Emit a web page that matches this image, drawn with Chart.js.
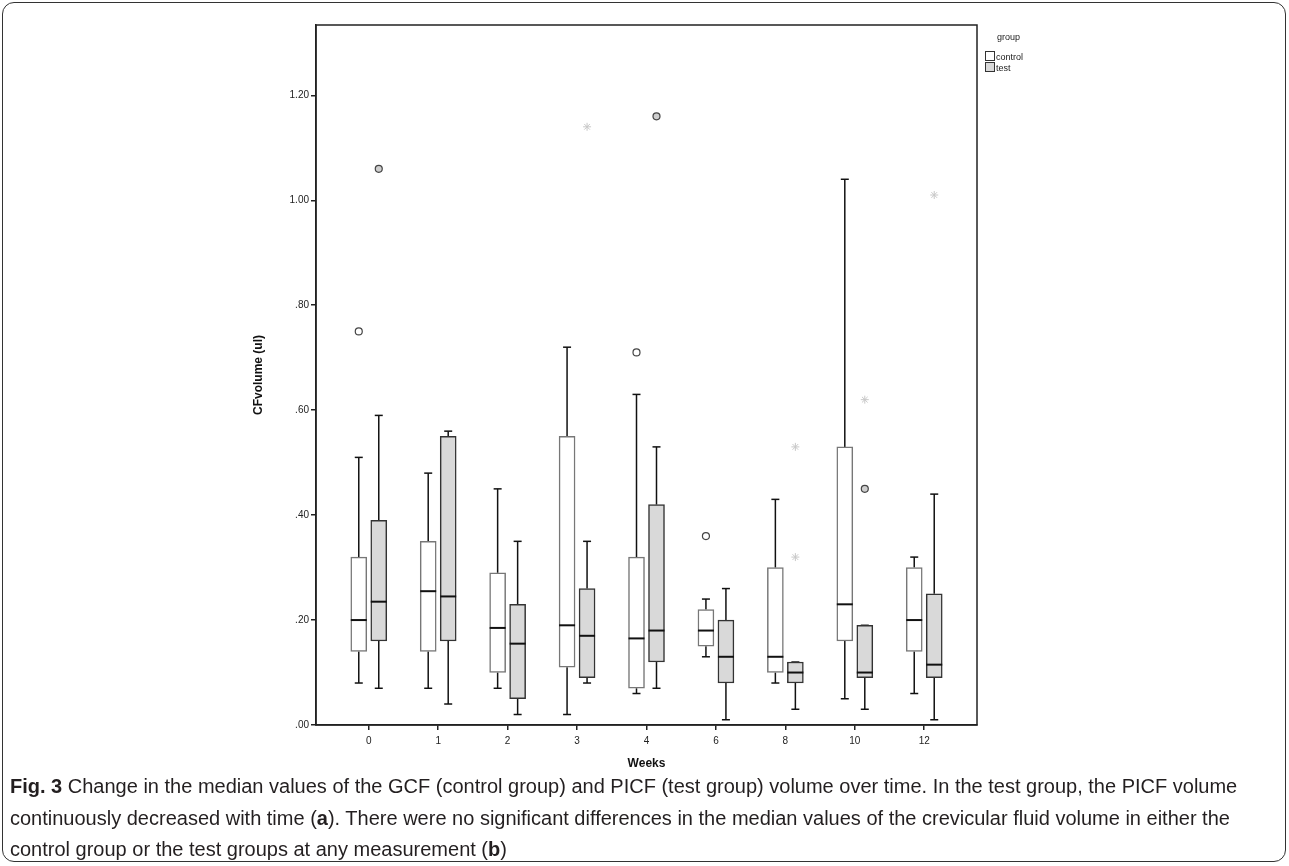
<!DOCTYPE html>
<html>
<head>
<meta charset="utf-8">
<script src="https://cdn.jsdelivr.net/npm/chart.js@4.4.1/dist/chart.umd.min.js"></script>
<style>
  body { margin: 0; background: #fff; font-family: "Liberation Sans", Arial, sans-serif; }
  #frame { position: absolute; left: 2px; top: 2px; width: 1282px; height: 858px; border: 1px solid #333; border-radius: 12px; }
  #wrap { position: absolute; left: 0; top: 0; width: 1289px; height: 775px; }
  #legend { position: absolute; left: 985px; top: 32px; font-size: 9px; color: #222; line-height: 10px; }
  #legend .sw { display: inline-block; width: 8px; height: 8px; border: 1px solid #333; vertical-align: -1px; margin-right: 1px; }
  #caption { position: absolute; left: 10px; top: 771px; white-space: nowrap; font-family: "Liberation Sans", Arial, sans-serif; font-size: 20px; line-height: 31.5px; color: #231f20; }
</style>
</head>
<body>
<div id="frame"></div>
<div id="wrap"><canvas id="boxChart"></canvas></div>
<div id="legend">
  <div style="margin-left:12px;margin-bottom:9px">group</div>
  <div><span class="sw" style="background:#fff"></span>control</div>
  <div><span class="sw" style="background:#d9d9d9"></span>test</div>
</div>
<div id="caption"><b>Fig. 3</b> Change in the median values of the GCF (control group) and PICF (test group) volume over time. In the test group, the PICF volume<br>continuously decreased with time (<b>a</b>). There were no significant differences in the median values of the crevicular fluid volume in either the<br>control group or the test groups at any measurement (<b>b</b>)</div>
<script>
const weeks = ['0', '1', '2', '3', '4', '6', '8', '10', '12'];

// control group (GCF)
const controlMin    = [0.08, 0.07, 0.07, 0.02, 0.06, 0.13, 0.08, 0.05, 0.06];
const controlQ1     = [0.14, 0.14, 0.10, 0.11, 0.07, 0.15, 0.10, 0.16, 0.14];
const controlMedian = [0.20, 0.255, 0.185, 0.19, 0.165, 0.18, 0.13, 0.23, 0.20];
const controlQ3     = [0.32, 0.35, 0.29, 0.55, 0.32, 0.22, 0.30, 0.53, 0.30];
const controlMax    = [0.51, 0.48, 0.45, 0.72, 0.63, 0.24, 0.43, 1.04, 0.32];

// test group (PICF)
const testMin    = [0.07, 0.04, 0.02, 0.08, 0.07, 0.01, 0.03, 0.03, 0.01];
const testQ1     = [0.16, 0.16, 0.05, 0.09, 0.12, 0.08, 0.08, 0.09, 0.09];
const testMedian = [0.235, 0.245, 0.155, 0.17, 0.18, 0.13, 0.10, 0.10, 0.115];
const testQ3     = [0.39, 0.55, 0.23, 0.26, 0.42, 0.20, 0.12, 0.19, 0.25];
const testMax    = [0.59, 0.56, 0.35, 0.35, 0.53, 0.26, 0.12, 0.19, 0.44];

// outliers: [week index, value]
const controlOutliers = [[0, 0.75], [4, 0.71], [5, 0.36]];
const testOutliers    = [[0, 1.06], [4, 1.16], [7, 0.45]];
const testExtremes    = [[3, 1.14], [6, 0.53], [6, 0.32], [7, 0.62], [8, 1.01]];

const shift = 0.144;

function boxData(q1, q3, dx) {
    return q1.map((v, i) => ({ x: i + dx, y: [v, q3[i]] }));
}
function outlierData(list, dx) {
    return list.map(o => ({ x: o[0] + dx, y: o[1] }));
}

const boxPlugin = {
    id: 'boxParts',
    beforeDatasetsDraw(chart) {
        let ctx = chart.ctx, x = chart.scales.x, y = chart.scales.y;
        ctx.save();
        ctx.strokeStyle = '#111';
        ctx.lineWidth = 1.5;
        [[controlMin, controlQ1, controlQ3, controlMax, -shift], [testMin, testQ1, testQ3, testMax, shift]].forEach(g => {
            weeks.forEach((w, i) => {
                let px = x.getPixelForValue(i + g[4]);
                let segs = [[g[0][i], g[1][i]], [g[2][i], g[3][i]]];
                segs.forEach(s => {
                    if (s[0] == s[1]) return;
                    ctx.beginPath();
                    ctx.moveTo(px, y.getPixelForValue(s[0]));
                    ctx.lineTo(px, y.getPixelForValue(s[1]));
                    ctx.stroke();
                });
                [g[0][i], g[3][i]].forEach(v => {
                    let py = y.getPixelForValue(v);
                    ctx.beginPath();
                    ctx.moveTo(px - 4, py);
                    ctx.lineTo(px + 4, py);
                    ctx.stroke();
                });
            });
        });
        ctx.restore();
    },
    afterDatasetsDraw(chart) {
        let ctx = chart.ctx, x = chart.scales.x, y = chart.scales.y, a = chart.chartArea;
        ctx.save();
        ctx.strokeStyle = '#111';
        ctx.lineWidth = 2;
        [[controlMedian, -shift], [testMedian, shift]].forEach(g => {
            g[0].forEach((v, i) => {
                let px = x.getPixelForValue(i + g[1]);
                let py = y.getPixelForValue(v);
                ctx.beginPath();
                ctx.moveTo(px - 8, py);
                ctx.lineTo(px + 8, py);
                ctx.stroke();
            });
        });
        // frame round the plot
        ctx.strokeStyle = '#222';
        ctx.lineWidth = 1.5;
        ctx.strokeRect(a.left, a.top, a.right - a.left, a.bottom - a.top);
        ctx.restore();
    }
};

let canvas = document.getElementById('boxChart').getContext('2d');
let boxChart = new Chart(canvas, {
    type: 'bar',
    data: {
        datasets: [
            { type: 'bar', label: 'control', data: boxData(controlQ1, controlQ3, -shift), backgroundColor: '#ffffff', borderColor: '#777', borderWidth: 1.5, borderSkipped: false, barThickness: 16, grouped: false },
            { type: 'bar', label: 'test', data: boxData(testQ1, testQ3, shift), backgroundColor: '#d9d9d9', borderColor: '#333', borderWidth: 1.5, borderSkipped: false, barThickness: 16, grouped: false },
            { type: 'scatter', label: 'control outliers', data: outlierData(controlOutliers, -shift), pointStyle: 'circle', pointRadius: 3.5, backgroundColor: '#fff', borderColor: '#444', borderWidth: 1.2 },
            { type: 'scatter', label: 'test outliers', data: outlierData(testOutliers, shift), pointStyle: 'circle', pointRadius: 3.5, backgroundColor: '#cfcfcf', borderColor: '#444', borderWidth: 1.2 },
            { type: 'scatter', label: 'test extremes', data: outlierData(testExtremes, shift), pointStyle: 'star', pointRadius: 4, backgroundColor: '#ccc', borderColor: '#c8c8c8', borderWidth: 1 }
        ]
    },
    options: {
        responsive: true,
        maintainAspectRatio: false,
        animation: false,
        layout: { padding: { left: 251, right: 312, top: 25, bottom: 0 } },
        plugins: { legend: { display: false }, tooltip: { enabled: false } },
        scales: {
            x: {
                type: 'linear',
                min: -0.76,
                max: 8.76,
                offset: false,
                afterFit: scale => { scale.height = 50; },
                afterBuildTicks: scale => { scale.ticks = weeks.map((w, i) => ({ value: i })); },
                ticks: {
                    color: '#222',
                    font: { family: 'Liberation Sans', size: 10 },
                    padding: 5,
                    callback: v => weeks[v]
                },
                grid: { display: true, offset: false, drawOnChartArea: false, drawTicks: true, tickLength: 5, color: '#222', lineWidth: 1.5 },
                border: { display: true, color: '#222', width: 1.5 },
                title: { display: true, text: 'Weeks', color: '#111', font: { family: 'Liberation Sans', size: 12, weight: 'bold' }, padding: { top: 6 } }
            },
            y: {
                type: 'linear',
                min: 0,
                max: 1.334,
                afterFit: scale => { scale.width = 65; },
                ticks: {
                    stepSize: 0.2,
                    includeBounds: false,
                    color: '#222',
                    font: { family: 'Liberation Sans', size: 10 },
                    padding: 2,
                    callback: v => v.toFixed(2).replace(/^0/, '')
                },
                grid: { display: true, drawOnChartArea: false, drawTicks: true, tickLength: 5, color: '#222', lineWidth: 1.5 },
                border: { display: true, color: '#222', width: 1.5 },
                title: { display: true, text: 'CFvolume (ul)', color: '#111', font: { family: 'Liberation Sans', size: 12, weight: 'bold' }, padding: 0 }
            }
        }
    },
    plugins: [boxPlugin]
});
</script>
</body>
</html>
